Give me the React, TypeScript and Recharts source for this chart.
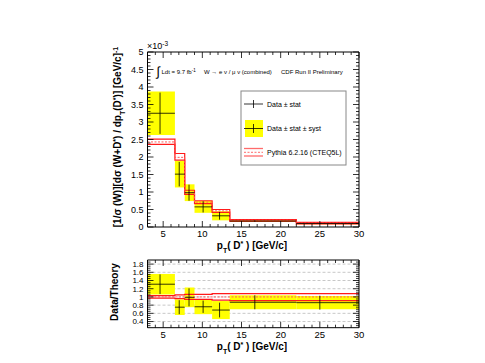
import React from 'react';
import { ComposedChart, XAxis, YAxis, Line, Scatter, ErrorBar, ReferenceArea, CartesianGrid } from 'recharts';

// bins in pT(D*) [GeV/c]
const binEdges = [3, 6.5, 7.75, 9, 11.25, 13.5, 22, 30];
const pointX = [4.6, 7.05, 8.3, 10.1, 12.2, 16.7, 25.0];

// upper panel, units of 1e-3
const dataY = [3.25, 1.51, 0.98, 0.575, 0.32, 0.17, 0.1];
const dataStat = [0.59, 0.35, 0.23, 0.16, 0.11, 0.02, 0.012];
const dataTot = [0.62, 0.38, 0.24, 0.17, 0.13, 0.03, 0.018];
const theoryMid = [2.43, 1.99, 0.99, 0.71, 0.46, 0.19, 0.11];
const theoryLo = [2.36, 1.91, 0.93, 0.67, 0.42, 0.17, 0.09];
const theoryHi = [2.51, 2.1, 1.05, 0.75, 0.5, 0.21, 0.13];

// lower panel, data / theory
const ratioY = [1.31, 0.75, 0.99, 0.76, 0.68, 0.87, 0.86];
const ratioStat = [0.24, 0.17, 0.22, 0.15, 0.18, 0.17, 0.17];
const ratioTot = [0.25, 0.19, 0.24, 0.18, 0.22, 0.17, 0.16];
const ratioMid = [1, 1, 1, 1, 1, 1, 1];
const ratioLo = [0.97, 0.96, 0.94, 0.94, 0.92, 0.91, 0.91];
const ratioHi = [1.03, 1.05, 1.06, 1.06, 1.08, 1.08, 1.08];

const xTicks = [5, 10, 15, 20, 25, 30];
const topYTicks = [0, 0.5, 1, 1.5, 2, 2.5, 3, 3.5, 4, 4.5, 5];
const ratioYTicks = [0.4, 0.6, 0.8, 1, 1.2, 1.4, 1.6, 1.8];

const range = (a: number, b: number, s: number) => {
  const out: number[] = [];
  for (let v = a; v <= b + 1e-9; v += s) out.push(Math.round(v * 1000) / 1000);
  return out;
};
const xMinor = range(3, 30, 1);
const topYMinor = range(0, 5, 0.1);
const ratioYMinor = range(0.3, 1.85, 0.05);

const FONT = 'Liberation Sans, Arial, Helvetica, sans-serif';
const RED = '#ff1a1a';

const stepRows = (lo: number[], mid: number[], hi: number[]) =>
  binEdges.map((x, i) => {
    const j = Math.min(i, lo.length - 1);
    return { x, lo: lo[j], mid: mid[j], hi: hi[j] };
  });

const pointRows = (y: number[], stat: number[]) =>
  pointX.map((x, i) => ({ x, y: y[i], ey: stat[i], ex: [x - binEdges[i], binEdges[i + 1] - x] }));

const topSteps = stepRows(theoryLo, theoryMid, theoryHi);
const topPoints = pointRows(dataY, dataStat);
const ratioSteps = stepRows(ratioLo, ratioMid, ratioHi);
const ratioPoints = pointRows(ratioY, ratioStat);

// ROOT style ticks: drawn inwards from the frame, labels only on left/bottom
type Side = 'left' | 'right' | 'top' | 'bottom';
const makeTick = (side: Side, major: number[], fontSize: number) => (p: any) => {
  const v = p.payload.value as number;
  const isMajor = major.some((m) => Math.abs(m - v) < 1e-6);
  const len = isMajor ? 6 : 3;
  const x = p.x as number;
  const y = p.y as number;
  let line;
  let label = null;
  if (side === 'left') {
    line = <line x1={x} y1={y} x2={x + len} y2={y} stroke="#000" strokeWidth={0.8} />;
    if (isMajor) label = <text x={x - 4} y={y} dy="0.35em" textAnchor="end" fontSize={fontSize} fontFamily={FONT} fill="#000">{String(v)}</text>;
  } else if (side === 'bottom') {
    line = <line x1={x} y1={y} x2={x} y2={y - len} stroke="#000" strokeWidth={0.8} />;
    if (isMajor) label = <text x={x} y={y + 3} dy="0.75em" textAnchor="middle" fontSize={fontSize} fontFamily={FONT} fill="#000">{String(v)}</text>;
  } else if (side === 'top') {
    line = <line x1={x} y1={y} x2={x} y2={y + len} stroke="#000" strokeWidth={0.8} />;
  } else {
    line = <line x1={x} y1={y} x2={x - len} y2={y} stroke="#000" strokeWidth={0.8} />;
  }
  return (
    <g>
      {line}
      {label}
    </g>
  );
};

function frameAxes(yDomain: number[], yMajor: number[], yMinor: number[], yFont: number) {
  const common = { type: 'number' as const, allowDataOverflow: true, interval: 0 as const, tickLine: false, tickSize: 0, tickMargin: 0, axisLine: { stroke: '#000' } };
  return [
    <XAxis key="b" xAxisId="main" dataKey="x" {...common} domain={[3, 30]} ticks={xMinor} orientation="bottom" height={20} tick={makeTick('bottom', xTicks, 9.5)} />,
    <XAxis key="t" xAxisId="top" dataKey="x" {...common} domain={[3, 30]} ticks={xMinor} orientation="top" height={1} tick={makeTick('top', xTicks, 9.5)} />,
    <YAxis key="l" yAxisId="main" {...common} domain={yDomain} ticks={yMinor} orientation="left" width={30} tick={makeTick('left', yMajor, yFont)} />,
    <YAxis key="r" yAxisId="right" dataKey="y" {...common} domain={yDomain} ticks={yMinor} orientation="right" width={1} tick={makeTick('right', yMajor, yFont)} />,
  ];
}

function panelSeries(
  steps: { x: number; lo: number; mid: number; hi: number }[],
  points: { x: number; y: number; ey: number; ex: number[] }[],
  y: number[],
  tot: number[],
) {
  return [
    ...y.map((v, i) => (
      <ReferenceArea
        key={`box${i}`}
        xAxisId="main"
        yAxisId="main"
        x1={binEdges[i]}
        x2={binEdges[i + 1]}
        y1={v - tot[i]}
        y2={v + tot[i]}
        fill="#ffff00"
        fillOpacity={1}
        stroke="none"
      />
    )),
    <Line key="lo" xAxisId="top" yAxisId="main" data={steps} dataKey="lo" type="stepAfter" stroke={RED} strokeWidth={1.2} dot={false} isAnimationActive={false} />,
    <Line key="hi" xAxisId="top" yAxisId="main" data={steps} dataKey="hi" type="stepAfter" stroke={RED} strokeWidth={1.2} dot={false} isAnimationActive={false} />,
    <Line key="mid" xAxisId="top" yAxisId="main" data={steps} dataKey="mid" type="stepAfter" stroke="#ff5a5a" strokeWidth={1} strokeDasharray="2 1.5" dot={false} isAnimationActive={false} />,
    <Scatter key="pts" xAxisId="main" yAxisId="right" data={points} dataKey="y" shape={() => <g />} isAnimationActive={false}>
      <ErrorBar dataKey="ey" direction="y" width={0} stroke="#000" strokeWidth={0.8} />
      <ErrorBar dataKey="ex" direction="x" width={0} stroke="#000" strokeWidth={0.8} />
    </Scatter>,
  ];
}

export default function App() {
  return (
    <div style={{ position: 'absolute', left: 0, top: 0, width: 485, height: 363, background: '#fff', fontFamily: FONT }}>
      <div style={{ position: 'absolute', left: 0, top: 0 }}>
        <ComposedChart width={485} height={250} margin={{ top: 51, right: 125, bottom: 3, left: 117.5 }}>
          {frameAxes([0, 5], topYTicks, topYMinor, 9)}
          {panelSeries(topSteps, topPoints, dataY, dataTot)}
        </ComposedChart>
      </div>
      <div style={{ position: 'absolute', left: 0, top: 250 }}>
        <ComposedChart width={485} height={113} margin={{ top: 9, right: 125, bottom: 15.3, left: 117.5 }}>
          <CartesianGrid xAxisId="main" yAxisId="right" vertical={false} horizontalValues={ratioYTicks} stroke="#c8c8c8" strokeDasharray="3 2" />
          {frameAxes([0.25, 1.9], ratioYTicks, ratioYMinor, 8)}
          {panelSeries(ratioSteps, ratioPoints, ratioY, ratioTot)}
        </ComposedChart>
      </div>
      <svg width={485} height={363} style={{ position: 'absolute', left: 0, top: 0, pointerEvents: 'none' }} fontFamily={FONT}>
        {/* upper panel y title */}
        <text transform="translate(121,137) rotate(-90)" textAnchor="middle" fontSize={10} fontWeight="bold">
          [1/σ (W)][dσ (W+D<tspan baselineShift="super" fontSize={7}>*</tspan>) / dp<tspan baselineShift="sub" fontSize={7}>T</tspan>(D<tspan baselineShift="super" fontSize={7}>*</tspan>)] [GeV/c]<tspan baselineShift="super" fontSize={7}>-1</tspan>
        </text>
        <text x={147} y={49} fontSize={9}>
          ×10<tspan baselineShift="super" fontSize={6.5}>-3</tspan>
        </text>
        {/* header */}
        <text x={156.5} y={76} fontSize={13}>∫</text>
        <text x={161.5} y={74} fontSize={6}>
          Ldt = 9.7 fb<tspan baselineShift="super" fontSize={4.5}>-1</tspan>
        </text>
        <text x={204} y={74} fontSize={6}>W → e ν / μ ν (combined)</text>
        <text x={281} y={74} fontSize={6}>CDF Run II Preliminary</text>
        {/* legend */}
        <rect x={241} y={91} width={105} height={74} fill="#fff" stroke="#888" strokeWidth={1} />
        <line x1={244} y1={104} x2={263} y2={104} stroke="#000" strokeWidth={0.8} />
        <line x1={253.5} y1={100} x2={253.5} y2={108} stroke="#000" strokeWidth={0.8} />
        <text x={267} y={106.5} fontSize={7}>Data ± stat</text>
        <rect x={245} y={120} width={18} height={17} fill="#ffff00" />
        <line x1={244} y1={128.5} x2={263} y2={128.5} stroke="#000" strokeWidth={0.8} />
        <line x1={253.5} y1={124} x2={253.5} y2={133} stroke="#000" strokeWidth={0.8} />
        <text x={267} y={131} fontSize={7}>Data ± stat ± syst</text>
        <line x1={244} y1={148.5} x2={263} y2={148.5} stroke="#ff6b6b" strokeWidth={1.3} />
        <line x1={244} y1={152.3} x2={263} y2={152.3} stroke="#ff6b6b" strokeWidth={1} strokeDasharray="2 1.5" />
        <line x1={244} y1={156} x2={263} y2={156} stroke="#ff6b6b" strokeWidth={1.3} />
        <text x={267} y={154.5} fontSize={7}>Pythia 6.2.16 (CTEQ5L)</text>
        {/* x titles */}
        <text x={252} y={249} textAnchor="middle" fontSize={10} fontWeight="bold">
          p<tspan baselineShift="sub" fontSize={7}>T</tspan>( D<tspan baselineShift="super" fontSize={7}>*</tspan> ) [GeV/c]
        </text>
        <text x={252} y={350} textAnchor="middle" fontSize={10} fontWeight="bold">
          p<tspan baselineShift="sub" fontSize={7}>T</tspan>( D<tspan baselineShift="super" fontSize={7}>*</tspan> ) [GeV/c]
        </text>
        {/* lower panel y title */}
        <text transform="translate(118,292) rotate(-90)" textAnchor="middle" fontSize={10} fontWeight="bold">
          Data/Theory
        </text>
      </svg>
    </div>
  );
}
